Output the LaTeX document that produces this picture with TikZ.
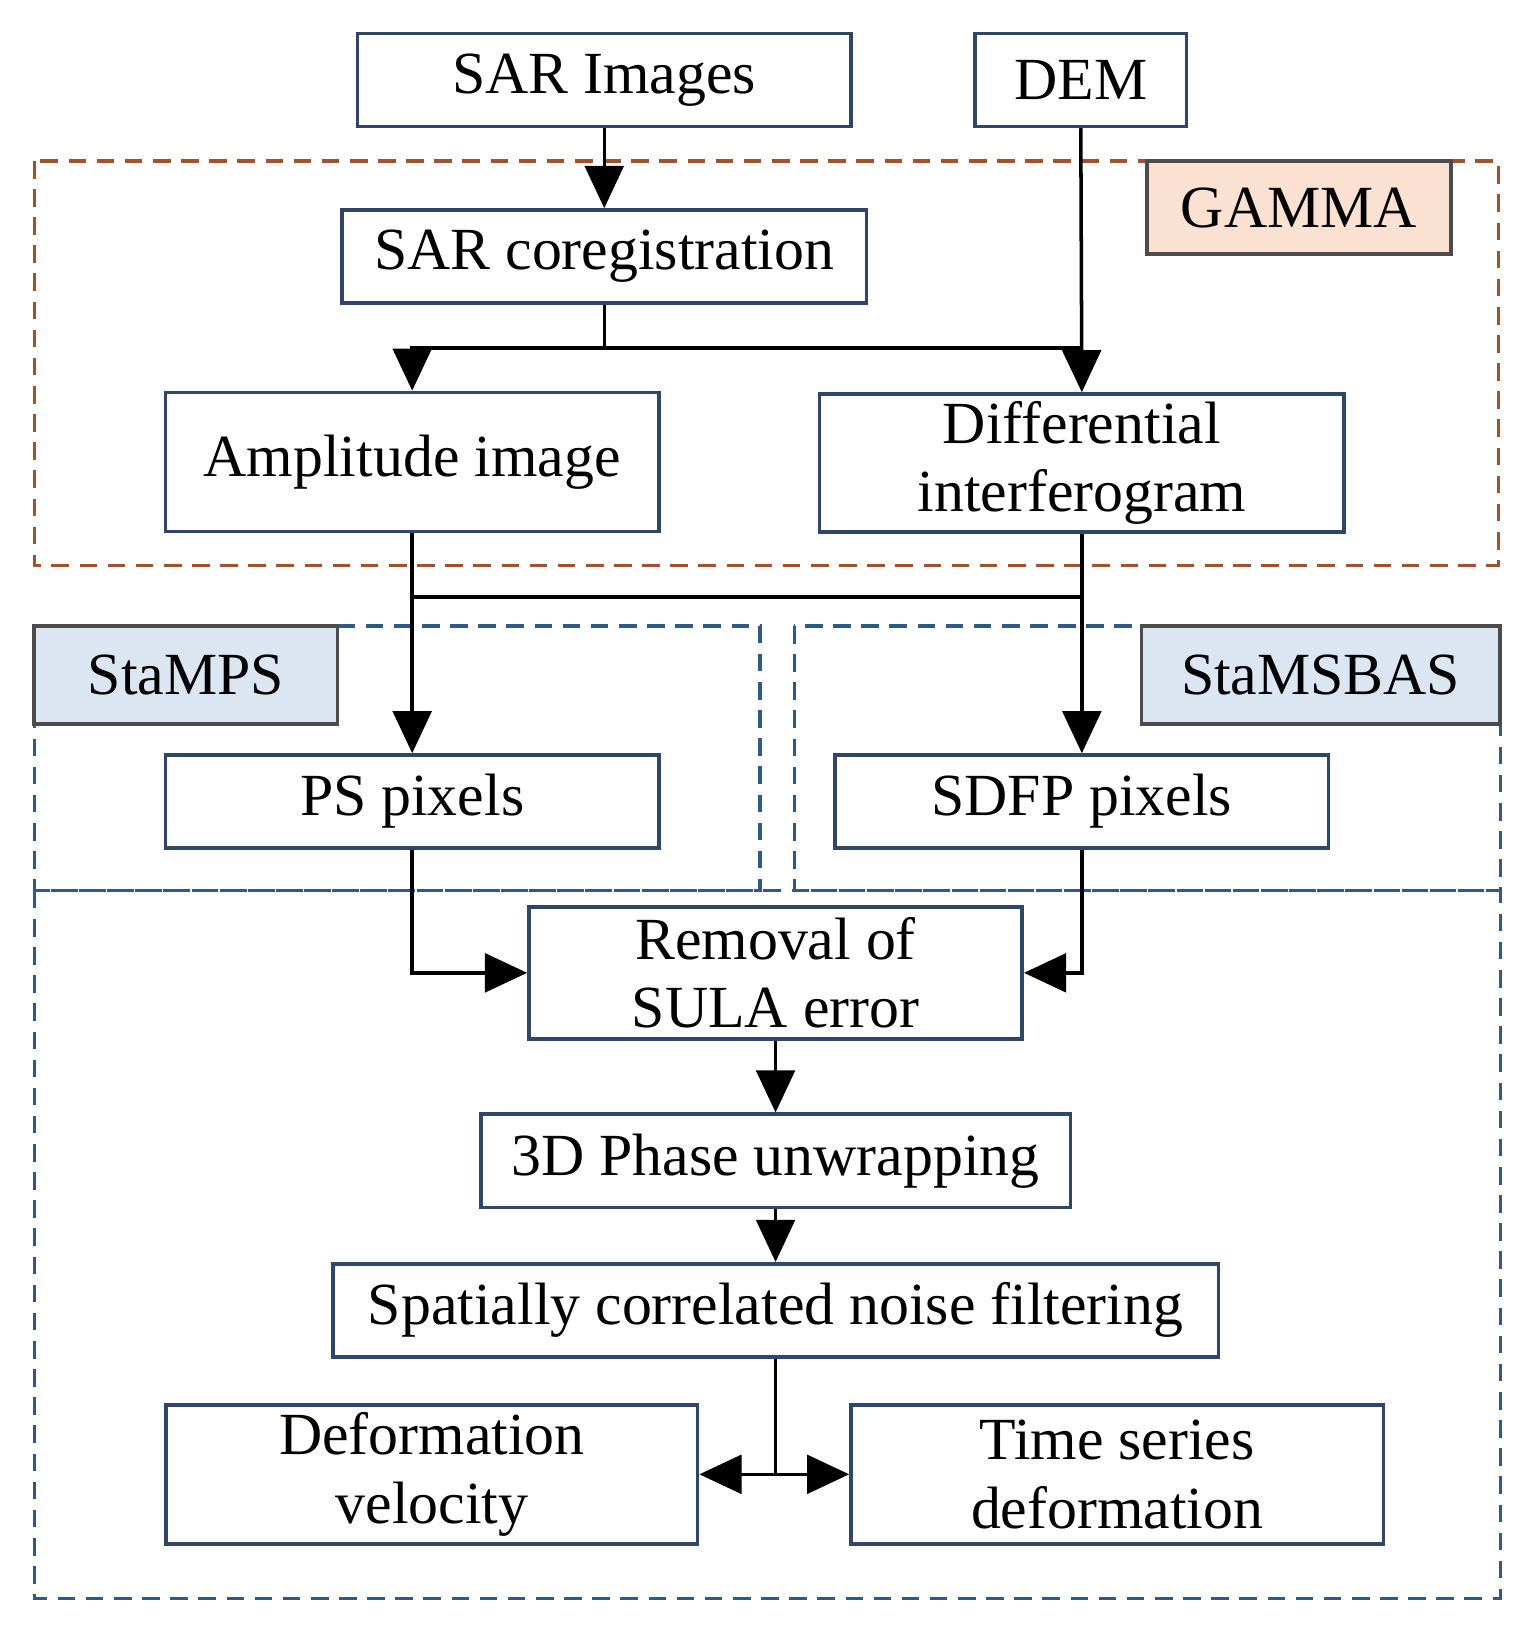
\documentclass[tikz,border=0pt]{standalone}
\usepackage{fontspec}
\setmainfont{Liberation Serif}
\usetikzlibrary{calc, arrows.meta, positioning}
\definecolor{boxline}{HTML}{2F4668}
\definecolor{gammaline}{HTML}{A0522D}
\definecolor{gammafill}{HTML}{FBE1D2}
\definecolor{staline}{HTML}{2E5A8A}
\definecolor{stafill}{HTML}{DCE6F2}
\begin{document}
\begin{tikzpicture}[
        x=0.01038cm, y=-0.01038cm,
        box/.style={rectangle, draw=boxline, line width=1pt, inner sep=0pt, font=\fontsize{17}{19.5}\selectfont, align=center},
        tag/.style={box, draw=black!70},
        arrow/.style={-{Triangle[length=12pt,width=11pt]}, line width=1pt},
        line/.style={line width=1pt},
        frame/.style={dashed, line width=0.9pt, dash pattern=on 5pt off 3pt}
    ]
        \useasboundingbox (0,0) rectangle (1470,1569);
        % dashed regions
        \draw[frame, gammaline] (33,155) rectangle (1443,545);
        \draw[frame, staline] (33,603) rectangle (732,858);
        \draw[frame, staline] (765,603) rectangle (1445,858);
        \draw[frame, staline] (33,858) rectangle (1445,1540);
        % labels
        \node[tag, fill=gammafill, minimum width=3.04cm, minimum height=0.93cm] (gamma) at (1251,200) {GAMMA};
        \node[tag, fill=stafill, minimum width=3.03cm, minimum height=0.98cm] (stamps) at (179,650) {StaMPS};
        \node[tag, fill=stafill, minimum width=3.58cm, minimum height=0.98cm] (stamsbas) at (1272,650) {StaMSBAS};
        % boxes
        \node[box, minimum width=4.93cm, minimum height=0.93cm] (sar) at (582,77) {SAR Images};
        \node[box, minimum width=2.11cm, minimum height=0.93cm] (dem) at (1041,77) {DEM};
        \node[box, minimum width=5.24cm, minimum height=0.93cm] (coreg) at (582,247) {SAR coregistration};
        \node[box, minimum width=4.93cm, minimum height=1.39cm] (amp) at (397,445) {Amplitude image};
        \node[box, minimum width=5.24cm, minimum height=1.38cm] (diff) at (1042,446) {Differential\\interferogram};
        \node[box, minimum width=4.93cm, minimum height=0.93cm] (ps) at (397,772) {PS pixels};
        \node[box, minimum width=4.93cm, minimum height=0.93cm] (sdfp) at (1042,772) {SDFP pixels};
        \node[box, minimum width=4.93cm, minimum height=1.32cm] (sula) at (747,937) {Removal of\\SULA error};
        \node[box, minimum width=5.89cm, minimum height=0.93cm] (unwrap) at (747,1118) {3D Phase unwrapping};
        \node[box, minimum width=8.85cm, minimum height=0.93cm] (filter) at (747,1262) {Spatially correlated noise filtering};
        \node[box, minimum width=5.31cm, minimum height=1.39cm] (vel) at (416,1420) {Deformation\\velocity};
        \node[box, minimum width=5.32cm, minimum height=1.39cm] (ts) at (1076,1420) {Time series\\deformation};
        % junction points
        \coordinate (j1) at (582,335);
        \coordinate (j2) at (397,575);
        \coordinate (j3) at (747,1420);
        % connectors
        \draw[arrow] (sar) -- (coreg);
        \draw[line] (coreg.south) -- (j1) -- (j1 -| diff.north);
        \draw[arrow] (j1) -| (amp.north);
        \draw[arrow] (dem.south) -- (diff.north);
        \draw[arrow] (amp.south) -- (ps.north);
        \draw[arrow] (diff.south) -- (sdfp.north);
        \draw[line] (j2) -- (j2 -| diff.south);
        \draw[arrow] (ps.south) |- (sula.west);
        \draw[arrow] (sdfp.south) |- (sula.east);
        \draw[arrow] (sula) -- (unwrap);
        \draw[arrow] (unwrap) -- (filter);
        \draw[line] (filter.south) -- (j3);
        \draw[arrow] (j3) -- (vel.east);
        \draw[arrow] (j3) -- (ts.west);
    \end{tikzpicture}
\end{document}
